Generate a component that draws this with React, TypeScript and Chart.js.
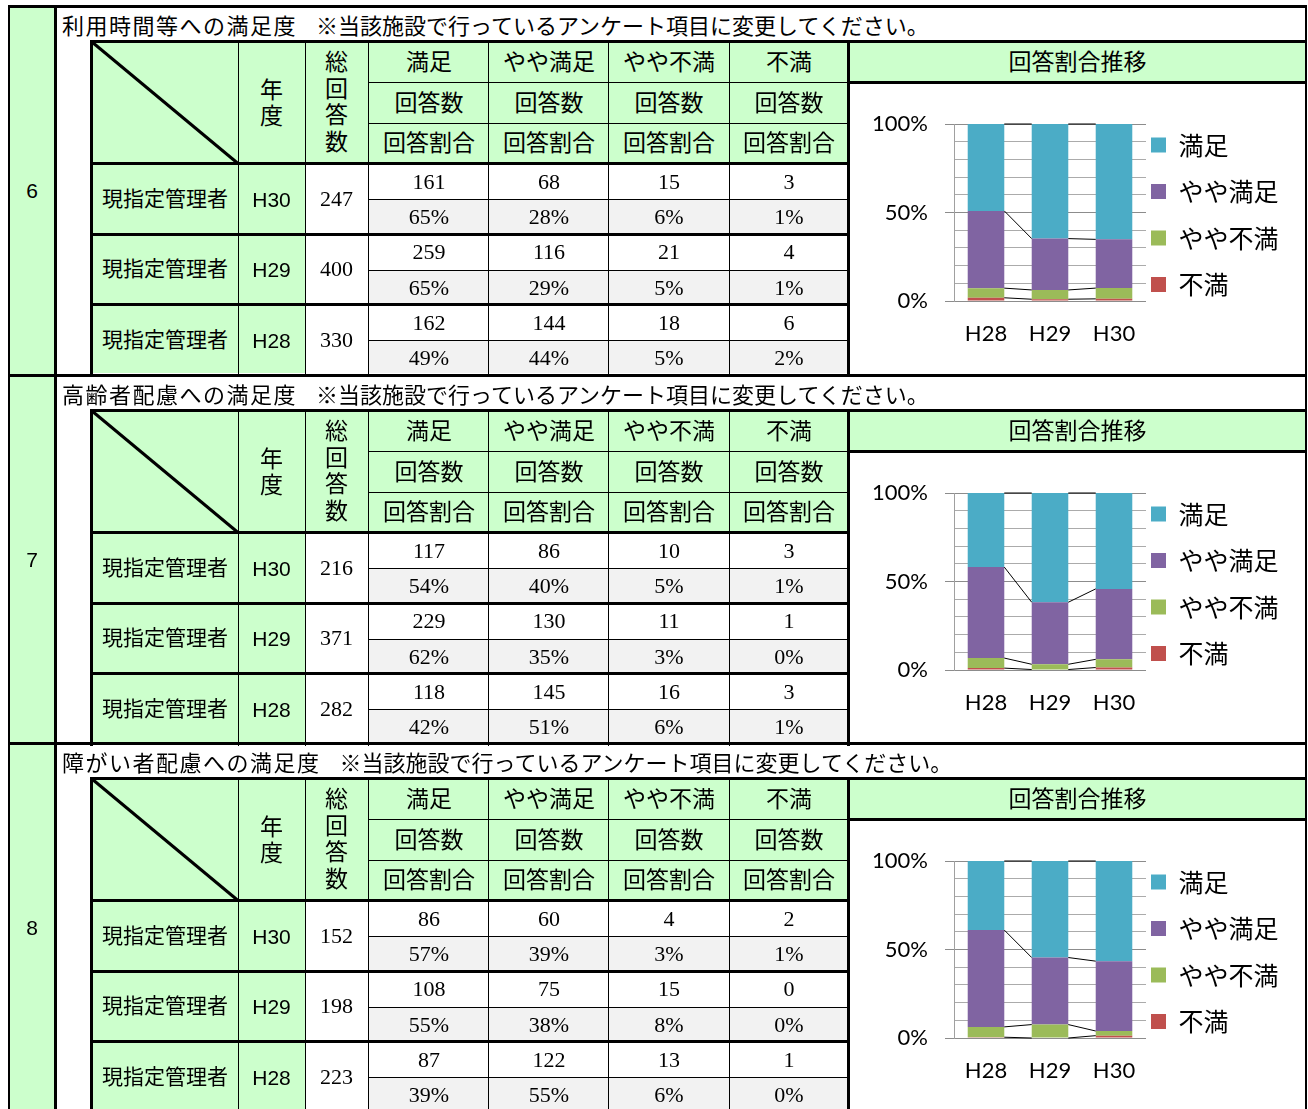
import React, { useEffect, useRef } from 'react';
import { Chart, registerables } from 'chart.js';

Chart.register(...registerables);

// ---------------- data ----------------
const sectionNumbers = ['6', '7', '8'];
const sectionSubjects = ['利用時間等への満足度', '高齢者配慮への満足度', '障がい者配慮への満足度'];
const sectionNote = '※当該施設で行っているアンケート項目に変更してください。';
const rowOwner = '現指定管理者';
const tableYears = ['H30', 'H29', 'H28'];
const chartYears = ['H28', 'H29', 'H30'];
const answerLabels = ['満足', 'やや満足', 'やや不満', '不満'];
const answerColors = ['#4BACC6', '#8064A2', '#9BBB59', '#C0504D'];
const countRowLabel = '回答数';
const ratioRowLabel = '回答割合';
const yearHeader = ['年', '度'];
const totalHeader = ['総', '回', '答', '数'];
const chartHeading = '回答割合推移';

const totals6 = [247, 400, 330];
const counts6 = [[161, 68, 15, 3], [259, 116, 21, 4], [162, 144, 18, 6]];
const ratios6 = [['65%', '28%', '6%', '1%'], ['65%', '29%', '5%', '1%'], ['49%', '44%', '5%', '2%']];

const totals7 = [216, 371, 282];
const counts7 = [[117, 86, 10, 3], [229, 130, 11, 1], [118, 145, 16, 3]];
const ratios7 = [['54%', '40%', '5%', '1%'], ['62%', '35%', '3%', '0%'], ['42%', '51%', '6%', '1%']];

const totals8 = [152, 198, 223];
const counts8 = [[86, 60, 4, 2], [108, 75, 15, 0], [87, 122, 13, 1]];
const ratios8 = [['57%', '39%', '3%', '1%'], ['55%', '38%', '8%', '0%'], ['39%', '55%', '6%', '0%']];

const sectionTotals = [totals6, totals7, totals8];
const sectionCounts = [counts6, counts7, counts8];
const sectionRatios = [ratios6, ratios7, ratios8];

// ---------------- styling ----------------
const CJK = '"Noto Sans CJK JP", "Noto Sans CJK SC", sans-serif';
const SANS = '"Liberation Sans", Arial, sans-serif';
const SERIF = '"Liberation Serif", "Times New Roman", serif';
const CHART_FONT = 'Lato, "Liberation Sans", sans-serif';
const GREEN = '#CCFFCC';
const GRAY_BG = '#F2F2F2';
const BLACK = '#000';

const sectionOffsets = [0, 369, 737];
const rowTops = [165, 236, 306];
const rowBottoms = [233, 303, 373];
const rowSplits = [199, 270, 340];
const rowMids = [199, 269, 340];
const countYs = [182, 252, 323];
const ratioYs = [217, 288, 358];
const answerColX = [429, 549, 669, 789];
const thinColX = [238, 305, 368, 488, 608, 729];

function Box({ x, y, w, h, bg }: { x: number; y: number; w: number; h: number; bg: string }) {
  return <div style={{ position: 'absolute', left: x, top: y, width: w, height: h, background: bg }} />;
}

function Txt({ cx, cy, text, font, size }: { cx: number; cy: number; text: string; font: string; size: number }) {
  const dy = font === CJK ? -1.5 : 0;
  return (
    <div
      style={{
        position: 'absolute',
        left: cx - 150,
        top: cy - size / 2 + dy,
        width: 300,
        height: size,
        lineHeight: `${size}px`,
        textAlign: 'center',
        fontFamily: font,
        fontSize: size,
        whiteSpace: 'nowrap',
        color: BLACK,
      }}
    >
      {text}
    </div>
  );
}

const seriesLinesPlugin = {
  id: 'seriesLines',
  afterDatasetsDraw(chart: any) {
    const ctx = chart.ctx;
    ctx.save();
    ctx.strokeStyle = '#000';
    ctx.lineWidth = 1;
    chart.data.datasets.forEach((_ds: any, di: number) => {
      const bars = chart.getDatasetMeta(di).data;
      for (let j = 0; j < bars.length - 1; j++) {
        const a = bars[j];
        const b = bars[j + 1];
        ctx.beginPath();
        ctx.moveTo(a.x + a.width / 2, a.y);
        ctx.lineTo(b.x - b.width / 2, b.y);
        ctx.stroke();
      }
    });
    ctx.restore();
  },
};

function SectionChart({ index }: { index: number }) {
  const ref = useRef<HTMLCanvasElement>(null);
  useEffect(() => {
    const totals = sectionTotals[index];
    const counts = sectionCounts[index];
    const stackOrder = [3, 2, 1, 0];
    const datasets = stackOrder.map((c) => ({
      label: answerLabels[c],
      data: chartYears.map((y) => {
        const r = tableYears.indexOf(y);
        return (counts[r][c] / totals[r]) * 100;
      }),
      backgroundColor: answerColors[c],
      borderWidth: 0,
      barPercentage: 0.5714,
      categoryPercentage: 1,
    }));
    const chart = new Chart(ref.current as HTMLCanvasElement, {
      type: 'bar',
      data: { labels: chartYears, datasets },
      options: {
        animation: false,
        responsive: false,
        maintainAspectRatio: false,
        devicePixelRatio: 1,
        layout: { padding: { top: 40, bottom: 22, left: 0, right: 17 } },
        plugins: {
          tooltip: { enabled: false },
          legend: {
            position: 'right',
            align: 'start',
            reverse: true,
            maxWidth: 142,
            title: { display: true, text: '', padding: 0, font: { size: 3.5, lineHeight: 1 } },
            labels: {
              boxWidth: 15,
              boxHeight: 15,
              padding: 5,
              color: '#000',
              font: { family: CJK, size: 25, lineHeight: 1.66 },
              generateLabels: (ch: any) =>
                (Chart.defaults.plugins.legend.labels as any)
                  .generateLabels(ch)
                  .map((l: any) => ({ ...l, text: [l.text] })),
            },
          },
        },
        scales: {
          x: {
            stacked: true,
            grid: { display: false, drawTicks: false },
            border: { display: false },
            ticks: { color: '#000', padding: 20, font: { family: CHART_FONT, size: 22 } },
            afterFit: (s: any) => {
              s.height = 50;
            },
          },
          y: {
            stacked: true,
            min: 0,
            max: 100,
            ticks: {
              stepSize: 10,
              autoSkip: false,
              padding: 17,
              color: '#000',
              font: { family: CHART_FONT, size: 22 },
              callback: (v: any) => (Number(v) % 50 === 0 ? `${v}%` : ''),
            },
            grid: {
              drawTicks: true,
              tickLength: 9,
              lineWidth: 1,
              color: (c: any) => (c.tick && c.tick.value % 50 === 0 ? '#8C8C8C' : '#ABABAB'),
              tickColor: (c: any) => (c.tick && c.tick.value % 50 === 0 ? '#8C8C8C' : 'rgba(0,0,0,0)'),
            },
            border: { display: true, color: '#A0A0A0', width: 1 },
            afterFit: (s: any) => {
              s.width = 104;
            },
          },
        },
      } as any,
      plugins: [seriesLinesPlugin],
    });
    return () => chart.destroy();
  }, [index]);
  return (
    <canvas
      ref={ref}
      width={455}
      height={289}
      style={{ position: 'absolute', left: 850, top: 84, width: 455, height: 289 }}
    />
  );
}

function Section({ index }: { index: number }) {
  const totals = sectionTotals[index];
  const counts = sectionCounts[index];
  const ratios = sectionRatios[index];
  return (
    <div style={{ position: 'absolute', left: 0, top: sectionOffsets[index], width: 1308, height: 378 }}>
      {/* backgrounds */}
      <Box x={10} y={8} w={44} h={368} bg={GREEN} />
      <Box x={93} y={43} w={754} h={119} bg={GREEN} />
      <Box x={850} y={43} w={455} h={38} bg={GREEN} />
      {rowTops.map((t, r) => (
        <React.Fragment key={`bg${r}`}>
          <Box x={93} y={t} w={212} h={rowBottoms[r] - t} bg={GREEN} />
          <Box x={369} y={rowSplits[r] + 1} w={478} h={rowBottoms[r] - rowSplits[r] - 1} bg={GRAY_BG} />
        </React.Fragment>
      ))}

      {/* chart */}
      <SectionChart index={index} />

      {/* lines */}
      <Box x={8} y={5} w={2} h={372} bg={BLACK} />
      <Box x={8} y={5} w={1299} h={3} bg={BLACK} />
      <Box x={54} y={5} w={3} h={372} bg={BLACK} />
      <Box x={90} y={40} w={3} h={337} bg={BLACK} />
      <Box x={1305} y={5} w={2} h={372} bg={BLACK} />
      <Box x={90} y={40} w={1217} h={3} bg={BLACK} />
      <Box x={847} y={81} w={460} h={3} bg={BLACK} />
      <Box x={847} y={40} w={3} h={337} bg={BLACK} />
      <Box x={90} y={162} w={760} h={3} bg={BLACK} />
      <Box x={90} y={233} w={760} h={3} bg={BLACK} />
      <Box x={90} y={303} w={760} h={3} bg={BLACK} />
      <Box x={368} y={82} w={479} h={1} bg={BLACK} />
      <Box x={368} y={123} w={479} h={1} bg={BLACK} />
      {thinColX.map((x) => (
        <Box key={`c${x}`} x={x} y={43} w={1} h={334} bg={BLACK} />
      ))}
      {rowSplits.map((y) => (
        <Box key={`s${y}`} x={368} y={y} w={479} h={1} bg={BLACK} />
      ))}
      <svg style={{ position: 'absolute', left: 90, top: 40 }} width={152} height={127}>
        <line x1={2} y1={2} x2={148} y2={123.5} stroke="#000" strokeWidth={3} />
      </svg>

      {/* texts */}
      <Txt cx={32} cy={190} text={sectionNumbers[index]} font={SANS} size={21} />
      <div
        style={{
          position: 'absolute',
          left: 62,
          top: 24 - 11,
          height: 22,
          lineHeight: '22px',
          fontFamily: CJK,
          whiteSpace: 'nowrap',
          color: BLACK,
        }}
      >
        <span style={{ fontSize: 22, letterSpacing: 1.5 }}>{sectionSubjects[index]}</span>
        <span style={{ fontSize: 22, marginLeft: 19 }}>{sectionNote}</span>
      </div>
      {answerLabels.map((lab, i) => (
        <React.Fragment key={`h${i}`}>
          <Txt cx={answerColX[i]} cy={62} text={lab} font={CJK} size={23} />
          <Txt cx={answerColX[i]} cy={103} text={countRowLabel} font={CJK} size={23} />
          <Txt cx={answerColX[i]} cy={143} text={ratioRowLabel} font={CJK} size={23} />
        </React.Fragment>
      ))}
      <Txt cx={271.5} cy={90} text={yearHeader[0]} font={CJK} size={23} />
      <Txt cx={271.5} cy={116} text={yearHeader[1]} font={CJK} size={23} />
      {totalHeader.map((ch, i) => (
        <Txt key={`t${i}`} cx={336.5} cy={[62, 89, 115, 142][i]} text={ch} font={CJK} size={23} />
      ))}
      <Txt cx={1077.5} cy={62} text={chartHeading} font={CJK} size={23} />
      {tableYears.map((yr, r) => (
        <React.Fragment key={`r${r}`}>
          <Txt cx={165} cy={rowMids[r]} text={rowOwner} font={CJK} size={21} />
          <Txt cx={271.5} cy={rowMids[r]} text={yr} font={SANS} size={21} />
          <Txt cx={336.5} cy={rowMids[r]} text={String(totals[r])} font={SERIF} size={22} />
          {answerLabels.map((_l, c) => (
            <React.Fragment key={`v${r}-${c}`}>
              <Txt cx={answerColX[c]} cy={countYs[r]} text={String(counts[r][c])} font={SERIF} size={22} />
              <Txt cx={answerColX[c]} cy={ratioYs[r]} text={ratios[r][c]} font={SERIF} size={22} />
            </React.Fragment>
          ))}
        </React.Fragment>
      ))}
    </div>
  );
}

export default function App() {
  return (
    <div
      style={{
        position: 'fixed',
        left: 0,
        top: 0,
        width: 1308,
        height: 1109,
        overflow: 'hidden',
        background: '#fff',
      }}
    >
      {sectionNumbers.map((_n, i) => (
        <Section key={i} index={i} />
      ))}
    </div>
  );
}
